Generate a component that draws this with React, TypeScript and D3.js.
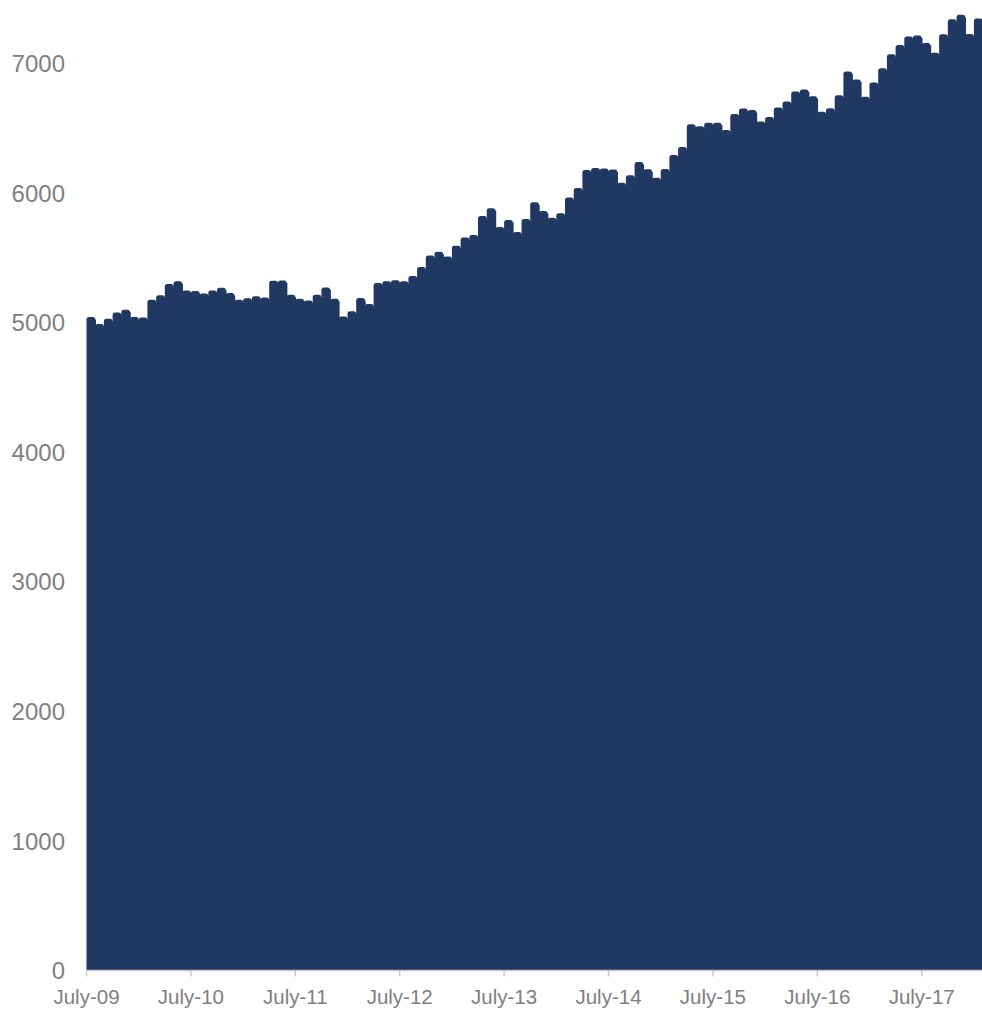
import React from "react";
import * as d3 from "d3";

const values: number[] = [
  5045, 4990, 5030, 5080, 5100, 5045, 5040, 5178, 5212, 5300, 5320, 5248,
  5245, 5225, 5248, 5270, 5230, 5178, 5190, 5204, 5194, 5325, 5327, 5217,
  5185, 5172, 5217, 5273, 5186, 5049, 5088, 5191, 5145, 5306, 5321, 5329,
  5321, 5360, 5430, 5520, 5548, 5512, 5595, 5659, 5677, 5824, 5883, 5739,
  5793, 5701, 5801, 5930, 5862, 5810, 5845, 5967, 6040, 6180, 6194, 6191,
  6182, 6080, 6138, 6241, 6184, 6120, 6187, 6295, 6357, 6532, 6517, 6543,
  6543, 6488, 6612, 6653, 6642, 6553, 6589, 6661, 6708, 6785, 6800, 6749,
  6628, 6656, 6756, 6940, 6878, 6744, 6855, 6965, 7073, 7143, 7210, 7218,
  7159, 7084, 7226, 7342, 7378, 7228, 7349,
];

const startMonth = new Date(2009, 6, 1);
const months: Date[] = values.map((_, i) => d3.timeMonth.offset(startMonth, i));
const monthKeys: string[] = months.map((d) => d3.timeFormat("%Y-%m")(d));

const xTickLabels: string[] = ["July-09", "July-10", "July-11", "July-12", "July-13", "July-14", "July-15", "July-16", "July-17"];
const xTickKeys: string[] = ["2009-07", "2010-07", "2011-07", "2012-07", "2013-07", "2014-07", "2015-07", "2016-07", "2017-07"];
const yTicks: number[] = [0, 1000, 2000, 3000, 4000, 5000, 6000, 7000];

const W = 982;
const H = 1009;
const left = 86.5;
const right = 982.6;
const base = 970.5;
const FONT = "'Liberation Sans', Arial, sans-serif";

export default function App() {
  const x = d3.scaleBand<string>().domain(monthKeys).range([left, right]).padding(0);
  const y = d3.scaleLinear().domain([0, 7000]).range([base, base - 0.12955 * 7000]);
  const r = 2.5;
  const bw = x.bandwidth();

  const barPath = (k: string, v: number, last: boolean) => {
    const x0 = x(k)!;
    const x1 = x0 + bw;
    const yt = y(v);
    const body = last ? "" : `M${x0 + r},${yt + r}H${x1 + 0.8}V${base}H${x0 + r}Z`;
    return `M${x0},${base}V${yt + r}Q${x0},${yt} ${x0 + r},${yt}H${x1 - r}Q${x1},${yt} ${x1},${yt + r}V${base}Z` + body;
  };

  return (
    <svg
      width={W}
      height={H}
      style={{ position: "absolute", left: 0, top: 0, background: "#fff" }}
    >
      <g>
        {values.map((v, i) => (
          <path
            key={monthKeys[i]}
            d={barPath(monthKeys[i], v, i === values.length - 1)}
            fill="#213862"
          />
        ))}
      </g>
      <line x1={left} x2={W} y1={base} y2={base} stroke="#c8c8c8" strokeWidth={1.5} />
      {xTickKeys.map((k, i) => {
        const tx = x(k)!;
        return (
          <g key={k}>
            <line x1={tx} x2={tx} y1={base} y2={base + 6} stroke="#c8c8c8" strokeWidth={1.5} />
            <text
              x={tx}
              y={1004}
              textAnchor="middle"
              fontFamily={FONT}
              fontSize={20.5}
              fill="#808080"
            >
              {xTickLabels[i]}
            </text>
          </g>
        );
      })}
      {yTicks.map((t) => (
        <text
          key={t}
          x={65}
          y={y(t)}
          dy="0.36em"
          textAnchor="end"
          fontFamily={FONT}
          fontSize={24}
          fill="#808080"
        >
          {t}
        </text>
      ))}
    </svg>
  );
}
